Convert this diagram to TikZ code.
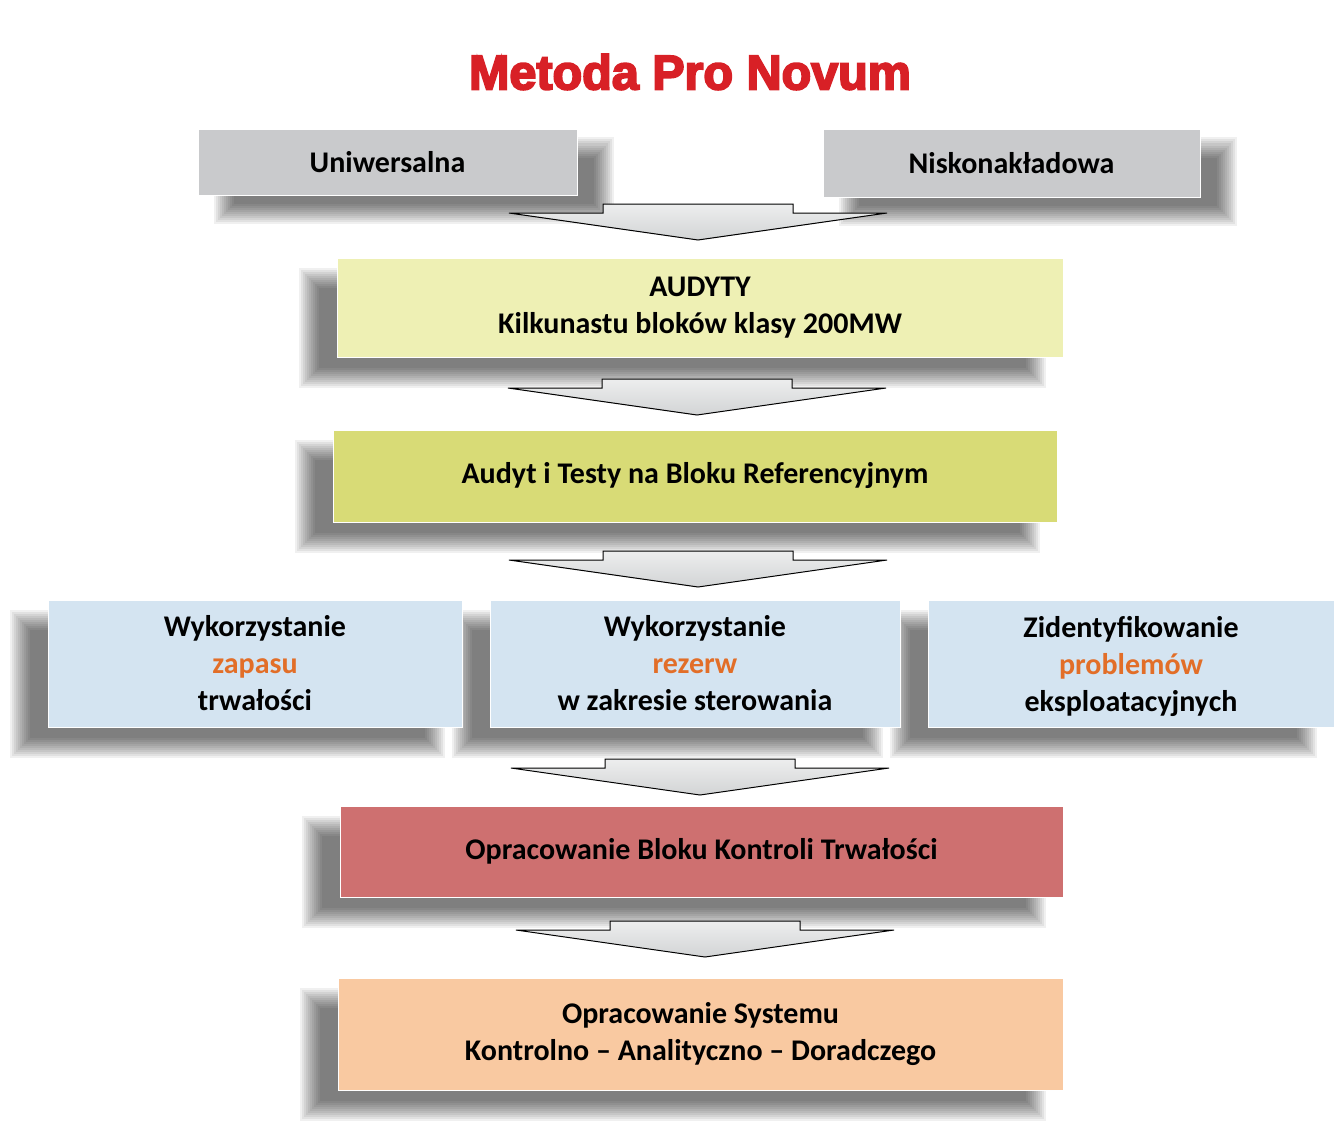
\documentclass[tikz,border=0pt]{standalone}
\usepackage{fontspec}
\setmainfont{Carlito}
\newfontfamily\titlefont{Liberation Sans}[UprightFont=* Bold, UprightFeatures={FakeBold=4}]
\usetikzlibrary{calc}
\usetikzlibrary{positioning}
\usetikzlibrary{backgrounds}

\definecolor{titlered}{RGB}{216,32,38}
\definecolor{boxgray}{RGB}{201,202,204}
\definecolor{boxpaleyel}{RGB}{238,240,180}
\definecolor{boxyel}{RGB}{216,219,118}
\definecolor{boxblue}{RGB}{212,228,241}
\definecolor{boxred}{RGB}{206,112,112}
\definecolor{boxorange}{RGB}{249,201,161}
\definecolor{hilite}{RGB}{226,110,40}
\definecolor{arrowgray}{RGB}{210,212,213}

\tikzset{
    box/.style={rectangle, draw=white, line width=1pt, align=center,
        font=\fontsize{30}{37}\selectfont\bfseries, inner sep=0pt},
    shadowlayer/.style={fill=black, opacity=0.06},
    flowarrow/.style={draw=black, line width=1pt, line join=miter,
        top color=arrowgray!40!white, bottom color=arrowgray},
}

% soft shadow behind a node: stacked translucent rectangles, offset by (#2,#3)
\newcommand\softshadow[3]{%
    \foreach \r in {10,8,...,-10}
        \fill[shadowlayer]
            ($(#1.north west)+(-\r+#2,-\r+#3)$) rectangle ($(#1.south east)+(\r+#2,\r+#3)$);}

% wide block arrow hanging below the given coordinate
\newcommand\flowarrow[1]{%
    \draw[flowarrow, shift={(#1)}] (-95,-9) -- (95,-9) -- (95,0) -- (189,0)
        -- (0,27) -- (-189,0) -- (-95,0) -- cycle;}

\begin{document}
\begin{tikzpicture}[x=1pt,y=-1pt]
    \useasboundingbox (0,0) rectangle (1338,1121);

    \node (title) at (690,72) {\titlefont\fontsize{48.5}{52}\selectfont\color{titlered}Metoda Pro Novum};

    % top row
    \node (uni) [box, fill=boxgray, minimum width=379pt, minimum height=65pt]
        at (387.5,162.5) {Uniwersalna};
    \node (nisko) [box, fill=boxgray, minimum width=377pt, minimum height=67pt]
        at (1011.5,163.5) {Niskonakładowa};

    \node (audyty) [box, fill=boxpaleyel, minimum width=726pt, minimum height=99pt]
        at (700,307.5) {AUDYTY\\Kilkunastu bloków klasy 200MW};
    \node (testy) [box, fill=boxyel, minimum width=724pt, minimum height=92pt]
        at (695,476) {Audyt i Testy na Bloku Referencyjnym};

    % three result boxes
    \node (zapas) [box, fill=boxblue, minimum width=414pt, minimum height=127pt]
        at (255,663.5) {Wykorzystanie\\\textcolor{hilite}{zapasu}\\trwałości};
    \node (rezerwy) [box, fill=boxblue, minimum width=410pt, minimum height=127pt]
        at (695,663.5) {Wykorzystanie\\\textcolor{hilite}{rezerw}\\w zakresie sterowania};
    \node (problemy) [box, text depth=0pt, fill=boxblue, minimum width=406pt, minimum height=127pt]
        at (1131,663.5) {Zidentyfikowanie\\\textcolor{hilite}{problemów}\\eksploatacyjnych};

    \node (bkt) [box, fill=boxred, minimum width=723pt, minimum height=91pt]
        at (701.5,851.5) {Opracowanie Bloku Kontroli Trwałości};
    \node (system) [box, fill=boxorange, minimum width=725pt, minimum height=112pt]
        at (700.5,1034) {Opracowanie Systemu\\Kontrolno -- Analityczno -- Doradczego};

    % block arrows between the rows
    \coordinate (a1) at (698,213);
    \coordinate (a2) at (697,388);
    \coordinate (a3) at (698,560);
    \coordinate (a4) at (700,768);
    \coordinate (a5) at (705,930);
    \foreach \a in {a1,a2,a3,a4,a5}
        \flowarrow{\a};

    \begin{pgfonlayer}{background}
        \fill[white] (0,0) rectangle (1338,1121);
        \softshadow{uni}{26}{18}
        \softshadow{nisko}{26}{18}
        \foreach \n in {audyty,testy,zapas,rezerwy,problemy,bkt,system}
            \softshadow{\n}{-28}{20};
    \end{pgfonlayer}
\end{tikzpicture}
\end{document}
